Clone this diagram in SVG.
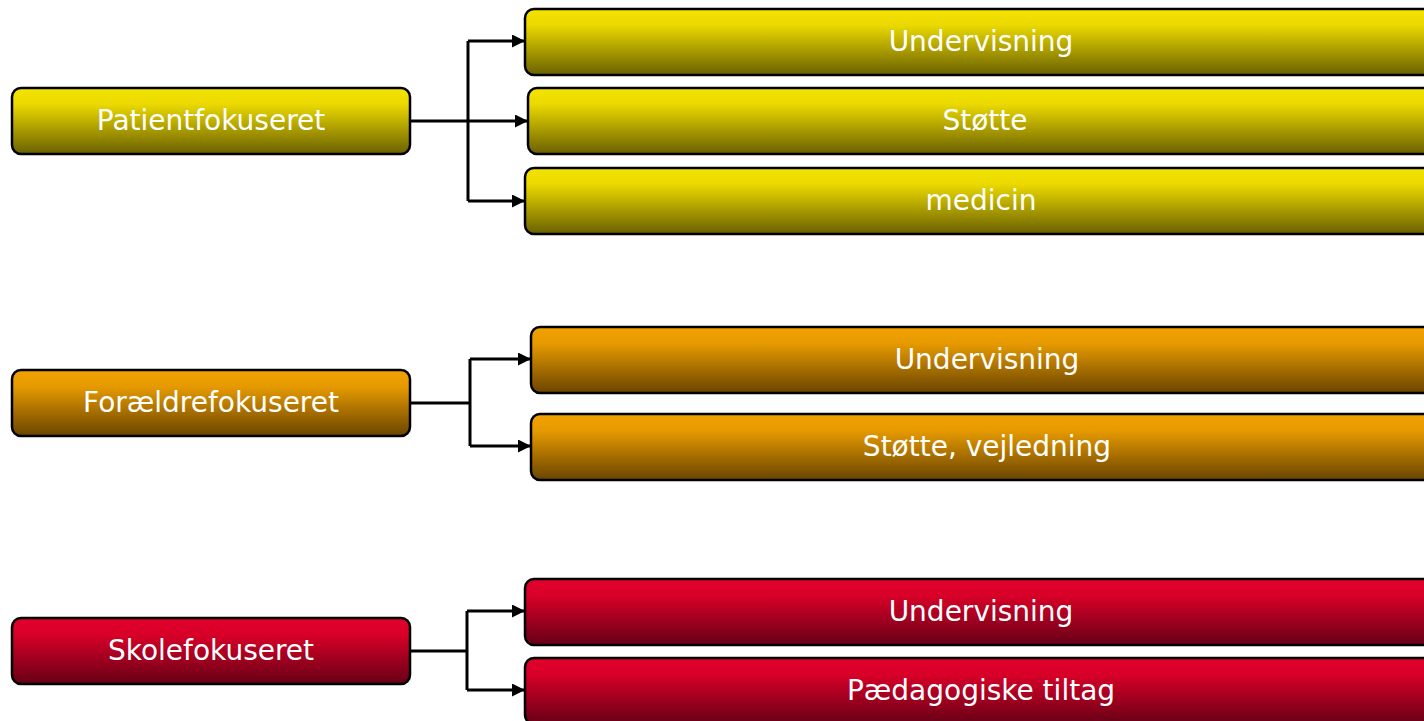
<svg xmlns="http://www.w3.org/2000/svg" width="1424" height="721" viewBox="0 0 1424 721">
<defs>
<linearGradient id="gy" x1="0" y1="0" x2="0" y2="1"><stop offset="0" stop-color="#f5e400"/><stop offset="0.25" stop-color="#ead800"/><stop offset="1" stop-color="#6a6000"/></linearGradient>
<linearGradient id="go" x1="0" y1="0" x2="0" y2="1"><stop offset="0" stop-color="#f2a200"/><stop offset="0.25" stop-color="#e69a00"/><stop offset="1" stop-color="#6a4400"/></linearGradient>
<linearGradient id="gr" x1="0" y1="0" x2="0" y2="1"><stop offset="0" stop-color="#e2002c"/><stop offset="0.25" stop-color="#d80028"/><stop offset="1" stop-color="#660016"/></linearGradient>
<marker id="ah" markerWidth="13" markerHeight="13" refX="13" refY="6.5" orient="auto" markerUnits="userSpaceOnUse"><path d="M0,0 L13,6.5 L0,13 Z" fill="#000"/></marker>
</defs>
<style>
.b{stroke:#000;stroke-width:2.5}
.y{fill:url(#gy)}.o{fill:url(#go)}.r{fill:url(#gr)}
text{font-family:"DejaVu Sans",Verdana,sans-serif;font-size:28px;fill:#fff;text-anchor:middle}
.c{fill:none;stroke:#000;stroke-width:3}
</style>
<rect width="1424" height="721" fill="#fff"/>
<g id="connectors">
<path class="c" d="M410,121 H468 M468,41 V201"/>
<path class="c" d="M468,41 H525" marker-end="url(#ah)"/>
<path class="c" d="M468,121 H528" marker-end="url(#ah)"/>
<path class="c" d="M468,201 H525" marker-end="url(#ah)"/>
<path class="c" d="M410,403 H470 M470,359 V446"/>
<path class="c" d="M470,359 H531" marker-end="url(#ah)"/>
<path class="c" d="M470,446 H531" marker-end="url(#ah)"/>
<path class="c" d="M410,651 H467 M467,611 V690"/>
<path class="c" d="M467,611 H525" marker-end="url(#ah)"/>
<path class="c" d="M467,690 H525" marker-end="url(#ah)"/>
</g>
<g id="n-patient"><rect class="b y" x="12" y="88" width="398" height="66" rx="9"/><text x="211" y="130">Patientfokuseret</text></g>
<g id="n-p-undervisning"><rect class="b y" x="525" y="9" width="912" height="66" rx="9"/><text x="981" y="51">Undervisning</text></g>
<g id="n-p-stotte"><rect class="b y" x="528" y="88" width="912" height="66" rx="9"/><text x="985" y="130">Støtte</text></g>
<g id="n-p-medicin"><rect class="b y" x="525" y="168" width="912" height="66" rx="9"/><text x="981" y="210">medicin</text></g>
<g id="n-foraeldre"><rect class="b o" x="12" y="370" width="398" height="66" rx="9"/><text x="211" y="412">Forældrefokuseret</text></g>
<g id="n-f-undervisning"><rect class="b o" x="531" y="327" width="912" height="66" rx="9"/><text x="987" y="369">Undervisning</text></g>
<g id="n-f-stotte"><rect class="b o" x="531" y="414" width="912" height="66" rx="9"/><text x="987" y="456">Støtte, vejledning</text></g>
<g id="n-skole"><rect class="b r" x="12" y="618" width="398" height="66" rx="9"/><text x="211" y="660">Skolefokuseret</text></g>
<g id="n-s-undervisning"><rect class="b r" x="525" y="579" width="912" height="66" rx="9"/><text x="981" y="621">Undervisning</text></g>
<g id="n-s-paedagogiske"><rect class="b r" x="525" y="658" width="912" height="66" rx="9"/><text x="981" y="700">Pædagogiske tiltag</text></g>
</svg>
